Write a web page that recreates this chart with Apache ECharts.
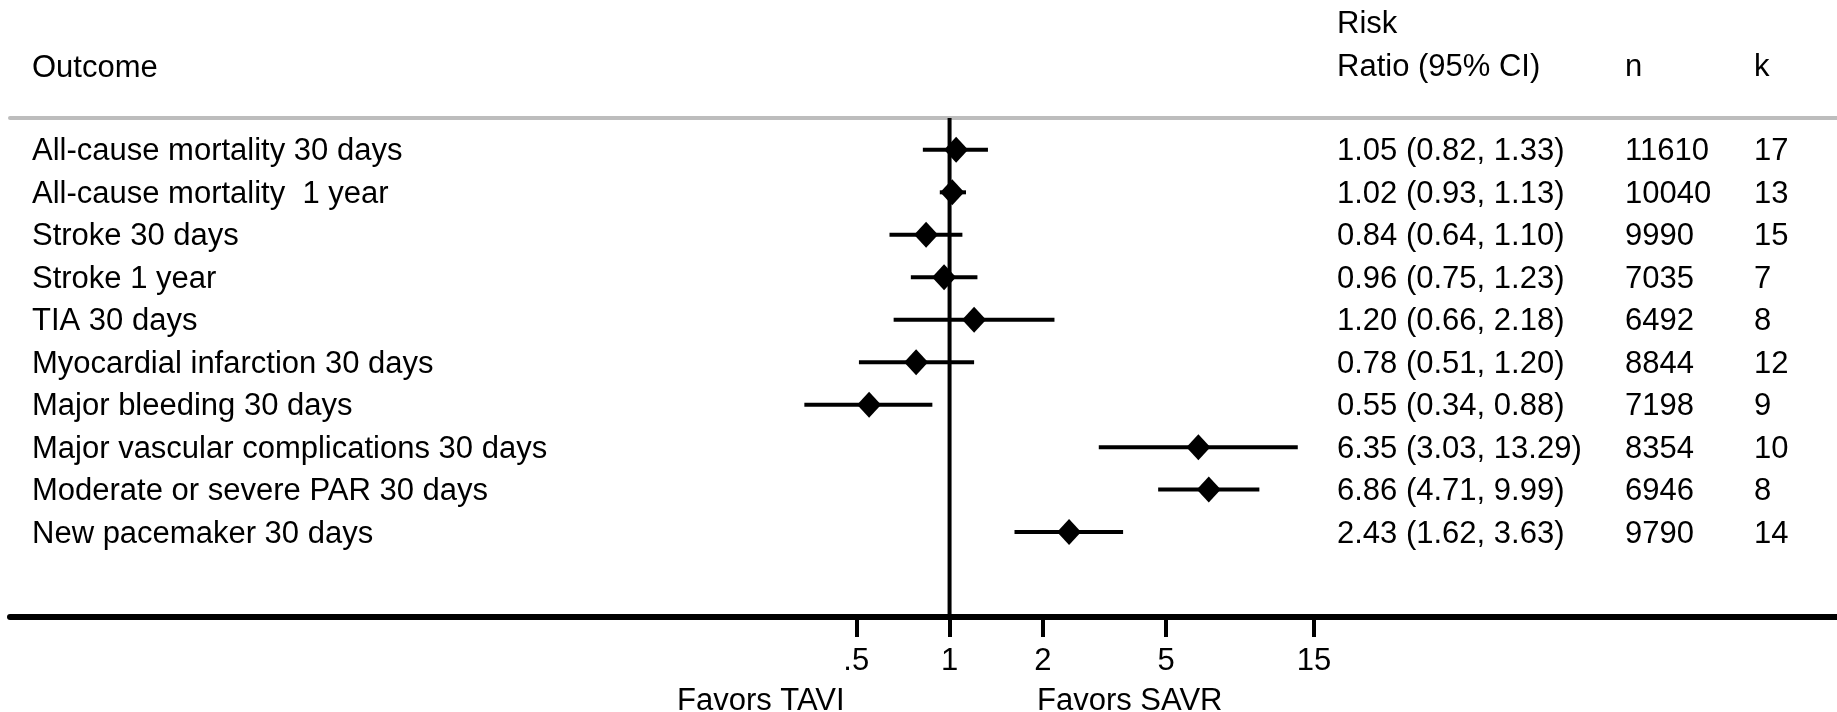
<!DOCTYPE html>
<html>
<head>
<meta charset="utf-8">
<title>TAVI vs SAVR — risk ratios</title>
<script src="https://cdn.jsdelivr.net/npm/echarts@6/dist/echarts.min.js"></script>
<style>
  html, body { margin: 0; padding: 0; background: #fff; }
  #chart { width: 1837px; height: 712px; }
</style>
</head>
<body>
<div id="chart"></div>
<script>
// Outcomes, one per row (top to bottom)
const outcomes = [
  'All-cause mortality 30 days',
  'All-cause mortality  1 year',
  'Stroke 30 days',
  'Stroke 1 year',
  'TIA 30 days',
  'Myocardial infarction 30 days',
  'Major bleeding 30 days',
  'Major vascular complications 30 days',
  'Moderate or severe PAR 30 days',
  'New pacemaker 30 days'
];
// Pooled risk ratio and 95% CI bounds
const riskRatio = [1.05, 1.02, 0.84, 0.96, 1.20, 0.78, 0.55, 6.35, 6.86, 2.43];
const ciLower   = [0.82, 0.93, 0.64, 0.75, 0.66, 0.51, 0.34, 3.03, 4.71, 1.62];
const ciUpper   = [1.33, 1.13, 1.10, 1.23, 2.18, 1.20, 0.88, 13.29, 9.99, 3.63];
// Patients (n) and studies (k)
const patients = [11610, 10040, 9990, 7035, 6492, 8844, 7198, 8354, 6946, 9790];
const studies  = [17, 13, 15, 7, 8, 12, 9, 10, 8, 14];
// Log-axis ticks and their printed labels
const tickValues = [0.5, 1, 2, 5, 15];
const tickLabels = ['.5', '1', '2', '5', '15'];

const FONT = "'Liberation Sans', Arial, Helvetica, sans-serif";
const FS = 31;
const X_MIN = 0.00093, X_MAX = 730;   // log-axis extent spanning the full width
const Y_MIN = -0.75, Y_MAX = 11;      // row index extent (inverted)
const COL_OUTCOME = 32, COL_RR = 1337, COL_N = 1625, COL_K = 1754;

const fmt = v => v.toFixed(2);
const rowIdx = outcomes.map((_, i) => i);

const chart = echarts.init(document.getElementById('chart'));

const textStyle = (x, y, text) => ({
  type: 'text',
  x: x, y: y,
  style: { text: text, fill: '#000', font: FS + 'px ' + FONT, textAlign: 'left', textVerticalAlign: 'middle' }
});

chart.setOption({
  animation: false,
  backgroundColor: '#fff',
  grid: { left: 10, right: 0, top: 118, bottom: 95, containLabel: false },
  xAxis: [
    {
      type: 'log', logBase: 10, min: X_MIN, max: X_MAX, position: 'bottom',
      splitLine: { show: false },
      axisLine: { show: true, onZero: false, lineStyle: { color: '#000', width: 6 } },
      axisTick: { show: true, inside: false, length: 20, customValues: tickValues,
                  lineStyle: { color: '#000', width: 4 } },
      axisLabel: { show: true, customValues: tickValues, margin: 29,
                   fontSize: FS, fontFamily: FONT, color: '#000',
                   formatter: v => tickLabels[tickValues.indexOf(v)] ?? String(v) }
    },
    {
      type: 'log', logBase: 10, min: X_MIN, max: X_MAX, position: 'top',
      splitLine: { show: false },
      axisLine: { show: true, onZero: false, lineStyle: { color: '#bdbdbd', width: 4 } },
      axisTick: { show: false }, axisLabel: { show: false }
    }
  ],
  yAxis: {
    type: 'value', inverse: true, min: Y_MIN, max: Y_MAX, show: false
  },
  series: [
    // Line of no effect at RR = 1
    {
      type: 'line', xAxisIndex: 0, symbol: 'none', silent: true,
      data: [[1, Y_MIN], [1, Y_MAX]],
      lineStyle: { color: '#000', width: 4 }
    },
    // Confidence interval whiskers
    {
      type: 'custom', xAxisIndex: 0, silent: true,
      encode: { x: [0, 1], y: 2 },
      data: rowIdx.map(i => [ciLower[i], ciUpper[i], i]),
      renderItem: (params, api) => {
        const a = api.coord([api.value(0), api.value(2)]);
        const b = api.coord([api.value(1), api.value(2)]);
        return { type: 'line', shape: { x1: a[0], y1: a[1], x2: b[0], y2: b[1] },
                 style: { stroke: '#000', lineWidth: 4 } };
      }
    },
    // Point estimates
    {
      type: 'scatter', xAxisIndex: 0, silent: true,
      symbol: 'diamond', symbolSize: [24, 26],
      itemStyle: { color: '#000', opacity: 1 },
      data: rowIdx.map(i => [riskRatio[i], i])
    },
    // Table columns: outcome, RR (95% CI), n, k
    {
      type: 'custom', xAxisIndex: 0, silent: true,
      encode: { x: 0, y: 1 },
      data: rowIdx.map(i => [1, i]),
      renderItem: (params, api) => {
        const i = api.value(1);
        const y = api.coord([1, i])[1] + 2;
        return {
          type: 'group',
          children: [
            textStyle(COL_OUTCOME, y, outcomes[i]),
            textStyle(COL_RR, y, fmt(riskRatio[i]) + ' (' + fmt(ciLower[i]) + ', ' + fmt(ciUpper[i]) + ')'),
            textStyle(COL_N, y, String(patients[i])),
            textStyle(COL_K, y, String(studies[i]))
          ]
        };
      }
    }
  ],
  graphic: [
    textStyle(COL_OUTCOME, 68, 'Outcome'),
    textStyle(COL_RR, 24, 'Risk'),
    textStyle(COL_RR, 67, 'Ratio (95% CI)'),
    textStyle(COL_N, 67, 'n'),
    textStyle(COL_K, 67, 'k'),
    textStyle(677, 701, 'Favors TAVI'),
    textStyle(1037, 701, 'Favors SAVR')
  ]
});
</script>
</body>
</html>
